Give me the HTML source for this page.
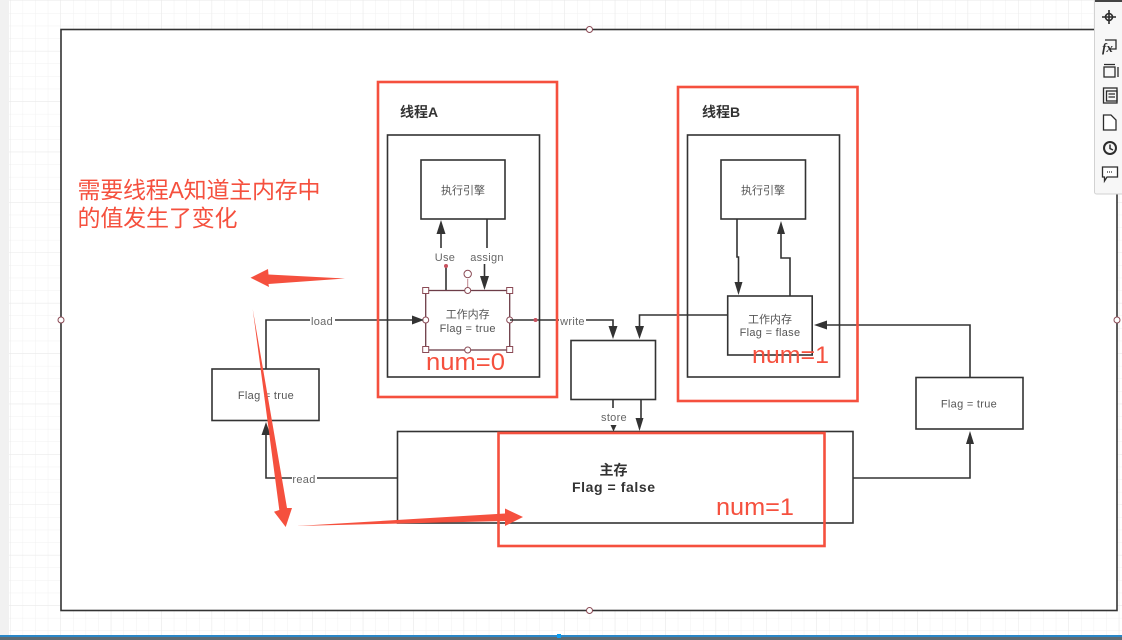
<!DOCTYPE html>
<html>
<head>
<meta charset="utf-8">
<style>
html,body{margin:0;padding:0;background:#fff;width:1122px;height:640px;overflow:hidden}
svg{display:block;filter:blur(.3px)}
text{font-family:"Liberation Sans","Noto Sans CJK SC",sans-serif}
.l{fill:#666;font-size:11px;text-anchor:middle;letter-spacing:.3px}
.w{fill:#fff}
.s{fill:none;stroke:#333;stroke-width:1.6}
.r{fill:none;stroke:#f5503e;stroke-width:2.6}
.a{fill:#333;stroke:none}
.h{fill:#fff;stroke:#8a4a55;stroke-width:1}
.n{fill:#f5503e;font-size:24px}
.ic{fill:none;stroke:#2c2c2c;stroke-width:1.3}
</style>
</head>
<body>
<svg width="1122" height="640" viewBox="0 0 1122 640" xmlns="http://www.w3.org/2000/svg">
<defs>
<pattern id="g" x="10" y="0.5" width="12.6" height="12.6" patternUnits="userSpaceOnUse">
<path d="M0 0H12.6M0 0V12.6" stroke="#f1f1f1" stroke-width="1" fill="none"/>
</pattern>
<pattern id="G" x="10" y="0.5" width="50.4" height="50.4" patternUnits="userSpaceOnUse">
<path d="M0 0H50.4M0 0V50.4" stroke="#e9e9e9" stroke-width="1" fill="none"/>
</pattern>
</defs>
<rect width="1122" height="640" fill="#fff"/>
<rect width="1122" height="640" fill="url(#g)"/>
<rect width="1122" height="640" fill="url(#G)"/>
<rect width="9" height="640" fill="#f1f1f1"/>
<rect y="635" width="1122" height="2.5" fill="#2a87c8"/>
<rect y="637" width="1122" height="3" fill="#5e6a72"/>
<rect x="557" y="634" width="4" height="4" fill="#0a9cf0"/>

<rect x="61" y="29.5" width="1056" height="581" fill="#fff" stroke="#333" stroke-width="1.6"/>

<!-- Thread A -->
<rect class="s" x="387.5" y="135" width="152" height="242"/>
<rect class="s" x="421" y="160" width="84" height="59"/>
<text x="463" y="194" text-anchor="middle" font-size="11" fill="#555">执行引擎</text>
<text x="400" y="117" font-size="14" font-weight="bold" fill="#333">线程A</text>
<path class="s" d="M441 248V232"/>
<path class="a" d="M441 220L445.500 234H436.500Z"/>
<path class="s" d="M446 266V290"/>
<path class="s" d="M487 219V248M484.500 264V278"/>
<path class="a" d="M484.500 290L480 276H489Z"/>
<text class="l" x="445" y="261">Use</text>
<text class="l" x="487" y="261">assign</text>
<circle cx="446" cy="266" r="2" fill="#c8525f"/>

<rect x="425.700" y="290.500" width="84" height="59.500" fill="#fff" stroke="#6d3d48" stroke-width="1.300"/>
<text x="467.700" y="318" text-anchor="middle" font-size="11" fill="#555">工作内存</text>
<text x="467.700" y="332" text-anchor="middle" font-size="11" fill="#555" letter-spacing=".3">Flag = true</text>
<path d="M467.700 279V290" stroke="#c0868e" stroke-width="1"/>
<circle class="h" cx="467.700" cy="274" r="3.700"/>
<rect class="h" x="422.700" y="287.500" width="6" height="6"/>
<rect class="h" x="506.700" y="287.500" width="6" height="6"/>
<rect class="h" x="422.700" y="346.500" width="6" height="6"/>
<rect class="h" x="506.700" y="346.500" width="6" height="6"/>
<circle class="h" cx="467.700" cy="290.500" r="3"/>
<circle class="h" cx="467.700" cy="350" r="3"/>
<circle class="h" cx="425.700" cy="320" r="3"/>
<circle class="h" cx="509.700" cy="320" r="3"/>
<text class="n" x="426" y="370" textLength="79" lengthAdjust="spacingAndGlyphs">num=0</text>

<!-- Load / left flag -->
<rect class="s" x="212" y="369" width="107" height="51.500"/>
<text x="266" y="399" text-anchor="middle" font-size="11" fill="#555" letter-spacing=".3">Flag = true</text>
<path class="s" d="M266 369V320H413"/>
<path class="a" d="M424 320L412 315.500V324.500Z"/>
<rect class="w" x="310" y="314" width="25" height="13"/>
<text class="l" x="322" y="325">load</text>
<path class="s" d="M397 478H266V434"/>
<path class="a" d="M266 422L261.500 435H270.500Z"/>
<rect class="w" x="292" y="472" width="25" height="13"/>
<text class="l" x="304" y="483">read</text>

<!-- Write -->
<path class="s" d="M510 320H613V328"/>
<path class="a" d="M613 339L608.500 326H617.500Z"/>
<circle cx="535.500" cy="320" r="2" fill="#c8525f"/>
<rect class="w" x="559" y="314" width="27" height="13"/>
<text class="l" x="572.500" y="325">write</text>
<path class="s" d="M727 315H639.500V328"/>
<path class="a" d="M639.500 339L635 326H644Z"/>

<!-- Middle box -->
<rect class="s" x="571" y="340.500" width="84.500" height="59"/>
<path class="s" d="M613 399V408M613 425V428"/>
<path class="a" d="M613.500 431.500L610.500 425H616.500Z"/>
<path class="s" d="M641 399V420"/>
<path class="a" d="M639.500 431L635.500 418H643.500Z"/>
<text class="l" x="614" y="421">store</text>

<!-- Main memory -->
<rect class="s" x="397.500" y="431.500" width="455.500" height="91.500"/>
<text x="613.500" y="475" text-anchor="middle" font-size="14" font-weight="bold" fill="#333">主存</text>
<text x="613.500" y="492" text-anchor="middle" font-size="14" font-weight="bold" fill="#333" textLength="83" lengthAdjust="spacing">Flag = false</text>
<path class="s" d="M853 478H970V442"/>
<path class="a" d="M970 431L966 444H974Z"/>

<!-- Thread B -->
<rect class="s" x="687.500" y="135" width="152" height="242"/>
<rect class="s" x="721" y="160" width="84.500" height="59"/>
<text x="763" y="194" text-anchor="middle" font-size="11" fill="#555">执行引擎</text>
<text x="702" y="117" font-size="14" font-weight="bold" fill="#333">线程B</text>
<path class="s" d="M737 219V257H738.500V285"/>
<path class="a" d="M738.500 295L734.500 282H742.500Z"/>
<path class="s" d="M790 296V258H781V233"/>
<path class="a" d="M781 221L777 234H785Z"/>
<rect class="s" x="727.700" y="296" width="84.500" height="59"/>
<text x="770" y="323" text-anchor="middle" font-size="11" fill="#555">工作内存</text>
<text x="770" y="336" text-anchor="middle" font-size="11" fill="#555" letter-spacing=".3">Flag = flase</text>
<text class="n" x="752" y="363" textLength="77" lengthAdjust="spacingAndGlyphs">num=1</text>

<!-- Right flag -->
<rect class="s" x="916" y="377.500" width="107" height="51.500"/>
<text x="969" y="407.500" text-anchor="middle" font-size="11" fill="#555" letter-spacing=".3">Flag = true</text>
<path class="s" d="M970 377V325H826"/>
<path class="a" d="M814 325L827 320.500V329.500Z"/>

<!-- Red annotations -->
<rect class="r" x="378" y="82" width="179" height="315"/>
<rect class="r" x="678" y="87" width="179.500" height="314"/>
<rect class="r" x="498.500" y="433" width="326" height="113"/>
<text x="77.500" y="198" font-size="23" fill="#f5503e" textLength="243" lengthAdjust="spacing">需要线程A知道主内存中</text>
<text x="77.500" y="226" font-size="23" fill="#f5503e" textLength="160" lengthAdjust="spacing">的值发生了变化</text>
<text class="n" x="716" y="515" textLength="78" lengthAdjust="spacingAndGlyphs">num=1</text>
<path fill="#f5503e" d="M250.500 277.700L268 269L268.500 274.500L345 278.500L268.500 284L269 287Z"/>
<path fill="#f5503e" d="M252.700 309L287 508L292 508L285.700 527L274 511.700L279.300 510Z"/>
<path fill="#f5503e" d="M296.700 526L505 513.500L505 508.500L523 517L505 526L505 521Z"/>

<!-- Connection points on outer frame -->
<circle class="h" cx="589.500" cy="29.500" r="3"/>
<circle class="h" cx="589.500" cy="610.500" r="3"/>
<circle class="h" cx="61" cy="320" r="3"/>
<circle class="h" cx="1117" cy="320" r="3"/>

<!-- Toolbar -->
<rect x="1094.500" y="-2" width="30" height="196" rx="2" fill="#f7f7f7" stroke="#d2d2d2"/>
<rect x="1095" y="0" width="27" height="2" fill="#444"/>
<g class="ic">
<circle cx="1109" cy="17" r="3.500" stroke-width="1.600"/>
<path d="M1109 10V24M1102 17H1116" stroke-width="1.600"/>
<path d="M1105 40H1116V49H1110"/>
<text x="1102" y="52" font-size="13" font-style="italic" font-weight="bold" fill="#2c2c2c" stroke="none" style="font-family:'Liberation Serif',serif">fx</text>
<rect x="1104" y="67" width="11" height="10"/>
<path d="M1104 64.500H1115M1118 67V77"/>
<rect x="1103.500" y="88" width="13.500" height="15"/>
<rect x="1106.500" y="91" width="10.500" height="10"/>
<path d="M1108.500 94H1115M1108.500 97H1115"/>
<path d="M1103.500 115H1111L1116 120V130H1103.500Z" fill="#fff"/>
<circle cx="1110" cy="148" r="6" stroke-width="2"/>
<path d="M1110 144.500V148.500L1113 150" stroke-width="1.500"/>
<path d="M1102.500 167H1117.500V177H1107L1104.500 181V177H1102.500Z" fill="#fff"/>
<path d="M1107 172H1113" stroke-dasharray="1 1"/>
</g>
</svg>
</body>
</html>
